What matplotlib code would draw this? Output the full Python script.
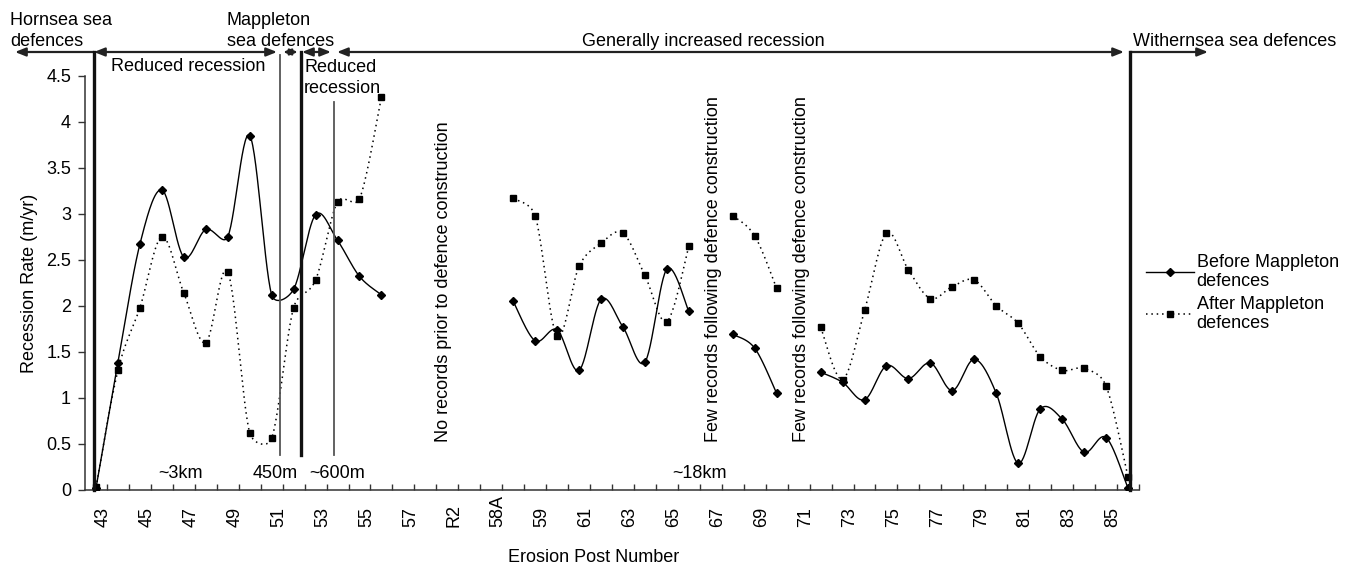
import matplotlib
matplotlib.use('Agg')
import matplotlib.pyplot as plt
import matplotlib.transforms as mtransforms
from matplotlib.lines import Line2D
from matplotlib.patches import FancyArrowPatch
import numpy as np

plt.rcParams['font.family'] = ['Liberation Sans', 'DejaVu Sans']

nan = np.nan

# erosion posts (one category each, every other one labelled)
posts = ['43', '44', '45', '46', '47', '48', '49', '50', '51', '52', '53', '54',
         '55', '56', '57', '58', 'R2', 'R3', '58A', '58B', '59', '60', '61', '62',
         '63', '64', '65', '66', '67', '68', '69', '70', '71', '72', '73', '74',
         '75', '76', '77', '78', '79', '80', '81', '82', '83', '84', '85', '86']

before = [0.02, 1.38, 2.67, 3.26, 2.53, 2.83, 2.75, 3.85, 2.12, 2.18, 2.99, 2.71,
          2.32, 2.12, nan, nan, nan, nan, nan, 2.05, 1.62, 1.74, 1.30, 2.07,
          1.77, 1.39, 2.40, 1.94, nan, 1.69, 1.54, 1.05, nan, 1.28, 1.17, 0.98,
          1.35, 1.21, 1.38, 1.08, 1.42, 1.05, 0.29, 0.88, 0.77, 0.41, 0.57, 0.02]

after = [0.03, 1.30, 1.98, 2.75, 2.14, 1.60, 2.37, 0.62, 0.56, 1.98, 2.28, 3.13,
         3.16, 4.27, nan, nan, nan, nan, nan, 3.17, 2.98, 1.67, 2.43, 2.68,
         2.79, 2.33, 1.83, 2.65, nan, 2.98, 2.76, 2.19, nan, 1.77, 1.20, 1.95,
         2.79, 2.39, 2.08, 2.21, 2.28, 2.00, 1.81, 1.45, 1.30, 1.32, 1.13, 0.14]

yticks = [0, 0.5, 1, 1.5, 2, 2.5, 3, 3.5, 4, 4.5]
yticklabels = ['0', '0.5', '1', '1.5', '2', '2.5', '3', '3.5', '4', '4.5']


def smooth(ax, xs, ys, n=30):
    # excel-like smoothed line, built in screen space, one piece per unbroken run
    xs = np.asarray(xs, float)
    ys = np.asarray(ys, float)
    ok = np.isfinite(ys)
    runs, cur = [], []
    for i in range(len(ys)):
        if ok[i]:
            cur.append(i)
        elif cur:
            runs.append(cur)
            cur = []
    if cur:
        runs.append(cur)
    out = []
    t = np.linspace(0, 1, n)[:, None]
    inv = ax.transData.inverted()
    for r in runs:
        P = ax.transData.transform(np.column_stack([xs[r], ys[r]]))
        segs = []
        for k in range(len(P) - 1):
            p0 = P[k - 1] if k > 0 else P[k]
            p1, p2 = P[k], P[k + 1]
            p3 = P[k + 2] if k + 2 < len(P) else P[k + 1]
            d12 = np.hypot(*(p2 - p1))
            d02 = np.hypot(*(p2 - p0))
            d13 = np.hypot(*(p3 - p1))
            f1 = 1 / 6 if d02 == 0 else min(1 / 6, 0.5 * d12 / d02)
            f2 = 1 / 6 if d13 == 0 else min(1 / 6, 0.5 * d12 / d13)
            c1 = p1 + (p2 - p0) * f1
            c2 = p2 - (p3 - p1) * f2
            b = ((1 - t) ** 3) * p1 + 3 * ((1 - t) ** 2) * t * c1 \
                + 3 * (1 - t) * t ** 2 * c2 + t ** 3 * p2
            segs.append(b)
        if segs:
            seg = inv.transform(np.vstack(segs))
            out.append((seg[:, 0], seg[:, 1]))
    return out


W, H = 1355, 572
def fx(px):
    return px / W
def fy(py):
    return 1 - py / H

fig = plt.figure(figsize=(W / 100, H / 100), dpi=100)
ax = fig.add_axes([fx(85), fy(490), (1139 - 85) / W, (490 - 75.7) / H])

x = np.arange(len(posts))
ax.set_xlim(-0.5, len(posts) - 0.5)
ax.set_ylim(0, 4.5)

for sx, sy in smooth(ax, x, before):
    ax.plot(sx, sy, color='black', lw=1.0, zorder=3)
for sx, sy in smooth(ax, x, after):
    ax.plot(sx, sy, color='black', lw=1.1, ls=(0, (1, 2.5)), zorder=3)
ax.plot(x, before, ls='none', marker='D', ms=4.5, color='black', zorder=4)
ax.plot(x, after, ls='none', marker='s', ms=5, color='black', zorder=4)

ax.set_yticks(yticks)
ax.set_yticklabels(yticklabels, fontsize=13)
ax.tick_params(axis='y', direction='out', length=5, width=1, color='#333333', pad=5)

ax.set_xticks([])
ax.set_xticks(np.arange(len(posts)) + 0.5, minor=True)
ax.tick_params(axis='x', which='minor', direction='in', length=4.5, width=1,
               color='#333333')
ax.tick_params(axis='x', which='major', length=0)

# rotated post labels, bottoms lined up like the original
lbl_tr = mtransforms.blended_transform_factory(ax.transData, ax.transAxes) + \
    mtransforms.ScaledTranslation(7 / 100, 0, fig.dpi_scale_trans)
for i in range(0, len(posts), 2):
    ax.text(i, -(527 - 490) / (490 - 75.7), posts[i], rotation=90, ha='center',
            va='bottom', fontsize=13, transform=lbl_tr)

for s in ['top', 'right']:
    ax.spines[s].set_visible(False)
for s in ['left', 'bottom']:
    ax.spines[s].set_color('#333333')
    ax.spines[s].set_linewidth(1.1)

fig.text(fx(30), fy(283), 'Recession Rate (m/yr)', rotation=90, ha='center',
         va='center', fontsize=13)
fig.text(fx(594), fy(558), 'Erosion Post Number', ha='center', va='center',
         fontsize=13)

# defence boundary lines
vlines = [(94, 52, 490, 2.4, '#111111'), (280, 55, 455, 1.3, '#555555'),
          (300.5, 52, 455, 2.4, '#111111'), (333.5, 102, 455, 1.3, '#555555'),
          (1129.5, 52, 490, 2.4, '#111111')]
for px, y0, y1, lw, c in vlines:
    fig.add_artist(Line2D([fx(px), fx(px)], [fy(y0), fy(y1)], lw=lw, color=c,
                          transform=fig.transFigure, zorder=2))

# arrows along the top
arrows = [(94, 15, '-|>', 14), (94, 277, '<|-|>', 14), (283, 298, '<|-|>', 10),
          (302, 331, '<|-|>', 14), (337, 1124, '<|-|>', 14), (1130, 1208, '-|>', 14)]
for a, b, st, ms in arrows:
    fig.add_artist(FancyArrowPatch((fx(a), fy(52)), (fx(b), fy(52)),
                                   arrowstyle=st + ',head_length=0.45,head_width=0.18',
                                   mutation_scale=ms, lw=1.6, color='#222222',
                                   shrinkA=0, shrinkB=0, transform=fig.transFigure))

fs = 13
fig.text(fx(10), fy(31), 'Hornsea sea\ndefences', ha='left', va='center',
         fontsize=fs, linespacing=1.3)
fig.text(fx(227), fy(31), 'Mappleton\nsea defences', ha='left', va='center',
         fontsize=fs, linespacing=1.3)
fig.text(fx(703), fy(42), 'Generally increased recession', ha='center',
         va='center', fontsize=fs)
fig.text(fx(1133), fy(42), 'Withernsea sea defences', ha='left', va='center',
         fontsize=fs)
fig.text(fx(111), fy(67), 'Reduced recession', ha='left', va='center', fontsize=fs)
fig.text(fx(304), fy(78), 'Reduced\nrecession', ha='left', va='center',
         fontsize=fs, linespacing=1.3)
for txt, px in [('~3km', 158), ('450m', 253), ('~600m', 309), ('~18km', 672)]:
    fig.text(fx(px), fy(473), txt, ha='left', va='center', fontsize=fs)
for txt, px in [('No records prior to defence construction', 443),
                ('Few records following defence construction', 713),
                ('Few records following defence construction', 802)]:
    fig.text(fx(px), fy(442), txt, rotation=90, ha='center', va='bottom',
             fontsize=fs)

handles = [Line2D([], [], color='black', lw=1.0, marker='D', ms=4.5),
           Line2D([], [], color='black', lw=1.1, ls=(0, (1, 2.5)), marker='s', ms=5)]
fig.legend(handles, ['Before Mappleton\ndefences', 'After Mappleton\ndefences'],
           loc='center left', bbox_to_anchor=(fx(1146), fy(293)), frameon=False,
           fontsize=fs, handlelength=2.65, handletextpad=0.15, labelspacing=0.28,
           borderpad=0, borderaxespad=0, numpoints=1)

fig.savefig('out.png', dpi=100)
